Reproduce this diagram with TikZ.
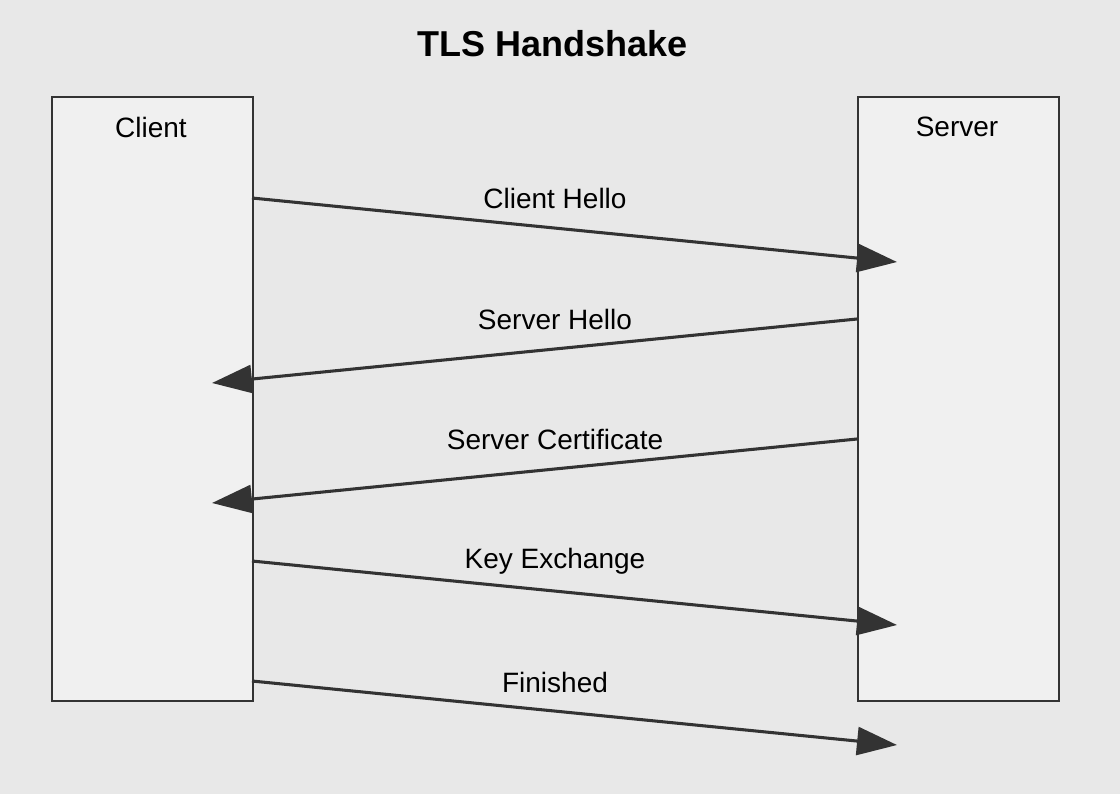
\documentclass[tikz,border=0pt]{standalone}
\usepackage{fontspec}
\setmainfont{Liberation Sans}
\usetikzlibrary{arrows.meta}
\definecolor{bg}{HTML}{E8E8E8}
\definecolor{boxfill}{HTML}{F0F0F0}
\definecolor{ink}{HTML}{333333}
\tikzset{
  party/.style={draw=ink, line width=1.3pt, fill=boxfill, minimum width=151pt, minimum height=453pt, inner sep=0pt, anchor=north west},
  lbl/.style={font=\fontsize{21}{25}\selectfont, text=black, inner sep=0pt},
  msg/.style={draw=ink, line width=2.3pt, -{Triangle[length=30pt,width=21pt]}, color=ink},
  ttl/.style={font=\fontsize{27}{32}\selectfont\bfseries, text=black, inner sep=0pt}
}
\begin{document}
\begin{tikzpicture}[x=0.75pt,y=-0.75pt]
\fill[bg] (0,0) rectangle (1120,794);
\useasboundingbox (0,0) rectangle (1120,794);
\node[ttl] (title) at (553,44) {TLS Handshake};
\node[party] (client) at (51,96) {};
\node[party] (server) at (857,96) {};
\node[lbl] (clientlbl) at (151,127) {Client};
\node[lbl] (serverlbl) at (957,127) {Server};
% endpoints
\coordinate (c1) at (252,198); \coordinate (s1) at (897,262);
\coordinate (s2) at (857,319); \coordinate (c2) at (212,383);
\coordinate (s3) at (857,439); \coordinate (c3) at (212,503);
\coordinate (c4) at (252,561); \coordinate (s4) at (897,625);
\coordinate (c5) at (252,681); \coordinate (s5) at (897,745);
\draw[msg] (c1) -- (s1);
\draw[msg] (s2) -- (c2);
\draw[msg] (s3) -- (c3);
\draw[msg] (c4) -- (s4);
\draw[msg] (c5) -- (s5);
\node[lbl] (l1) at (555,198) {Client Hello};
\node[lbl] (l2) at (555,319) {Server Hello};
\node[lbl] (l3) at (555,439) {Server Certificate};
\node[lbl] (l4) at (555,561) {Key Exchange};
\node[lbl] (l5) at (555,682) {Finished};
\end{tikzpicture}
\end{document}
